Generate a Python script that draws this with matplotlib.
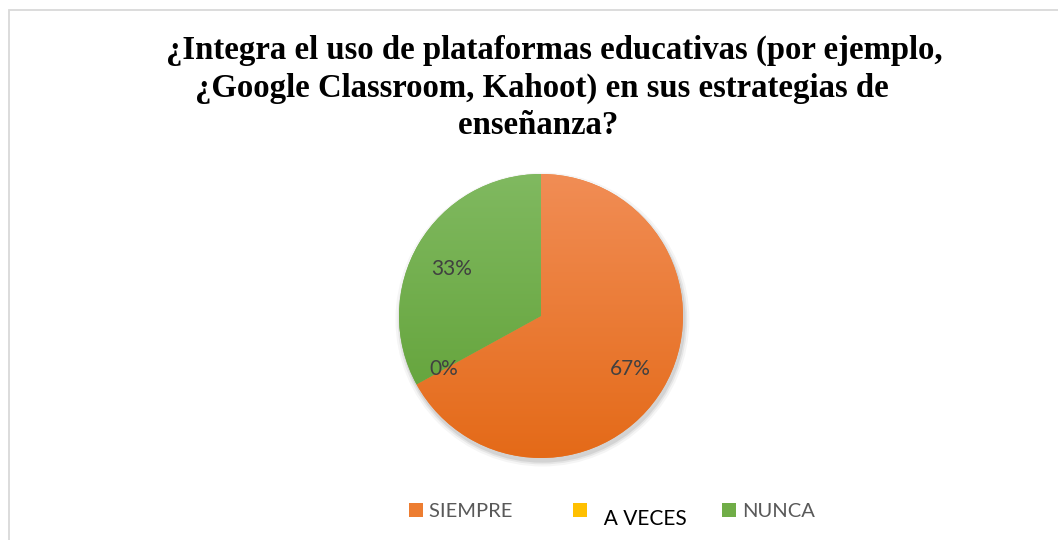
import matplotlib
matplotlib.use("Agg")
import matplotlib.pyplot as plt
import numpy as np
from matplotlib.colors import LinearSegmentedColormap
from matplotlib.patches import Rectangle, Patch

categories = ["SIEMPRE", "A VECES", "NUNCA"]
values = [67, 0, 33]
title_lines = ["¿Integra el uso de plataformas educativas (por ejemplo,",
               "¿Google Classroom, Kahoot) en sus estrategias de   ",
               "enseñanza?    "]
legend_labels = ["SIEMPRE     ", "  A VECES", "NUNCA"]
top_colors = ["#F18D55", "#FFCC33", "#80B960"]
bottom_colors = ["#E46A18", "#F5B800", "#5E9F33"]
mid_colors = ["#ED7D31", "#FFC000", "#70AD47"]

W, H = 1058, 540
fig = plt.figure(figsize=(W / 100, H / 100), dpi=100)
fig.patch.set_facecolor("white")

# border
fig.add_artist(Rectangle((9 / W, -0.01), 1.02, 1 - 9.5 / H + 0.01, transform=fig.transFigure,
                         fill=False, edgecolor="#D9D9D9", linewidth=1.3))

fig.text(554.5 / W, 1 - 35 / H, "\n".join(title_lines), ha="center", va="top", fontsize=23.6,
         fontweight="bold", family=["Liberation Serif", "DejaVu Serif"], linespacing=1.27,
         multialignment="center", color="black")

cx, cy, r = 541, 316, 142
ax = fig.add_axes([(cx - r) / W, (H - cy - r) / H, 2 * r / W, 2 * r / H])

wedges, texts, autotexts = ax.pie(values, colors=mid_colors, startangle=90, counterclock=False,
                                  autopct="%.0f%%", pctdistance=0.73, radius=1,
                                  wedgeprops=dict(linewidth=0),
                                  textprops=dict(color="#404040", fontsize=15, family="Lato"))

# shadow
for s, a in [(1.035, 0.04), (1.02, 0.06), (1.008, 0.08)]:
    sh = plt.Circle((0.01, -0.025), s, color="black", alpha=a, lw=0, zorder=0, clip_on=False)
    ax.add_patch(sh)

for w, tc, bc in zip(wedges, top_colors, bottom_colors):
    cmap = LinearSegmentedColormap.from_list("g", [bc, tc])
    grad = np.linspace(0, 1, 256).reshape(-1, 1)
    im = ax.imshow(grad, cmap=cmap, extent=[-1, 1, -1, 1], origin="lower", aspect="auto", zorder=1)
    im.set_clip_path(w)
    w.set_zorder(0.9)
for t in autotexts:
    t.set_zorder(5)
# nudge labels
x0, y0 = autotexts[1].get_position()
autotexts[1].set_position((x0 * 1.07, y0 * 1.07))
x2, y2 = autotexts[2].get_position()
autotexts[2].set_position((x2, y2 - 0.04))
ax.set_xlim(-1, 1)
ax.set_ylim(-1, 1)
ax.set_aspect("equal")
ax.axis("off")

handles = [Patch(facecolor=c, edgecolor="none") for c in mid_colors]
leg = fig.legend(handles, legend_labels, loc="center", bbox_to_anchor=(612 / W, 1 - 511 / H), ncol=3,
                 frameon=False, handlelength=0.7, handleheight=0.7,
                 handletextpad=0.3, columnspacing=1.75, prop=dict(family="Lato", size=14.5))
for t in leg.get_texts():
    t.set_color("#595959")
leg.get_texts()[1].set_color("black")
leg.get_texts()[1].set_fontsize(15)
leg.get_texts()[1].set_position((0, -8))

fig.savefig("out.png", dpi=100, facecolor="white")
